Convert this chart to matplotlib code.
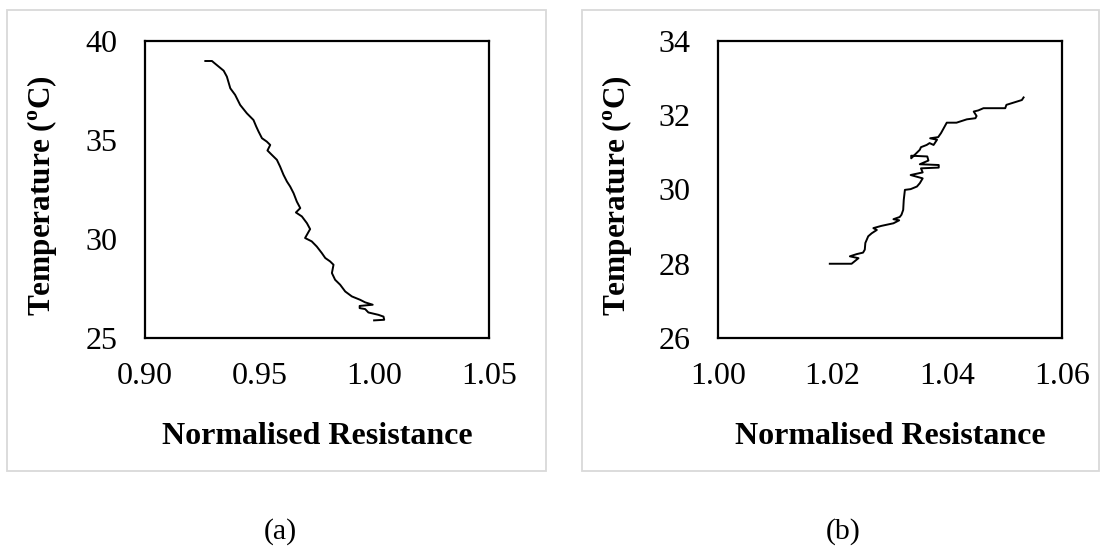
import numpy as np
import matplotlib
matplotlib.use("Agg")
import matplotlib.pyplot as plt
from matplotlib.patches import Rectangle

plt.rcParams["font.family"] = ["Liberation Serif", "DejaVu Serif"]
plt.rcParams["mathtext.fontset"] = "custom"
plt.rcParams["mathtext.rm"] = "Liberation Serif"
plt.rcParams["mathtext.bf"] = "Liberation Serif:bold"

# (a) temperature vs normalised resistance (decreasing)
res_a = [0.9263, 0.9292, 0.9299, 0.9321, 0.9343, 0.9357, 0.9372, 0.9393, 0.9415,
         0.9444, 0.9473, 0.9485, 0.9495, 0.9510, 0.9531, 0.9546, 0.9534, 0.9553,
         0.9575, 0.9589, 0.9604, 0.9619, 0.9633, 0.9648, 0.9662, 0.9677, 0.9658,
         0.9684, 0.9706, 0.9720, 0.9698, 0.9727, 0.9749, 0.9771, 0.9786, 0.9807,
         0.9822, 0.9815, 0.9829, 0.9851, 0.9873, 0.9902, 0.9938, 0.9960, 0.9993,
         0.9936, 0.9936, 0.9960, 0.9974, 1.0018, 1.0040, 1.0043, 0.9999]
temp_a = [38.99, 38.99, 38.92, 38.71, 38.50, 38.20, 37.61, 37.28, 36.77,
          36.35, 36.01, 35.68, 35.43, 35.09, 34.92, 34.75, 34.47, 34.25,
          34.00, 33.66, 33.24, 32.90, 32.65, 32.31, 31.89, 31.56, 31.34,
          31.14, 30.80, 30.50, 30.05, 29.88, 29.62, 29.29, 29.04, 28.87,
          28.70, 28.28, 27.94, 27.69, 27.35, 27.10, 26.93, 26.80, 26.68,
          26.62, 26.51, 26.46, 26.29, 26.17, 26.08, 25.92, 25.89]

# (b) temperature vs normalised resistance (increasing)
res_b = [1.0195, 1.0233, 1.0245, 1.0230, 1.0242, 1.0253, 1.0256, 1.0257, 1.0262,
         1.0268, 1.0277, 1.0271, 1.0285, 1.0306, 1.0316, 1.0306, 1.0317, 1.0320,
         1.0323, 1.0324, 1.0326, 1.0336, 1.0347, 1.0352, 1.0357, 1.0336, 1.0357,
         1.0354, 1.0385, 1.0385, 1.0352, 1.0367, 1.0365, 1.0337, 1.0337, 1.0352,
         1.0354, 1.0364, 1.0369, 1.0376, 1.0382, 1.0370, 1.0384, 1.0389, 1.0399,
         1.0416, 1.0434, 1.0449, 1.0451, 1.0446, 1.0454, 1.0463, 1.0501, 1.0503,
         1.0530, 1.0533]
temp_b = [28.00, 28.00, 28.15, 28.20, 28.26, 28.30, 28.38, 28.56, 28.74,
          28.82, 28.91, 28.96, 29.02, 29.09, 29.17, 29.20, 29.26, 29.32,
          29.45, 29.72, 29.99, 30.01, 30.08, 30.17, 30.30, 30.39, 30.46,
          30.57, 30.59, 30.66, 30.68, 30.78, 30.89, 30.91, 30.84, 31.07,
          31.14, 31.20, 31.25, 31.20, 31.34, 31.38, 31.41, 31.52, 31.80,
          31.80, 31.89, 31.92, 31.98, 32.10, 32.13, 32.19, 32.19, 32.28,
          32.41, 32.48]

xticks_a = [0.90, 0.95, 1.00, 1.05]
yticks_a = [25, 30, 35, 40]
xticks_b = [1.00, 1.02, 1.04, 1.06]
yticks_b = [26, 28, 30, 32, 34]

W, H = 1107, 548
fig = plt.figure(figsize=(W / 100, H / 100), dpi=100)


def px(x0, y0, x1, y1):
    return [x0 / W, 1 - y1 / H, (x1 - x0) / W, (y1 - y0) / H]


# light grey chart-area frames
for x0, x1 in [(7, 546), (582, 1099)]:
    fig.patches.append(Rectangle((x0 / W, 1 - 471 / H), (x1 - x0) / W, 461 / H,
                                 transform=fig.transFigure, fill=False,
                                 edgecolor="#d9d9d9", lw=1.3))

panels = [
    (px(145, 41, 489, 338), res_a, temp_a, xticks_a, yticks_a, 42, 280, "(a)"),
    (px(718, 41, 1062, 338), res_b, temp_b, xticks_b, yticks_b, 617, 843, "(b)"),
]

for rect, xs, ys, xt, yt, ylab_x, cap_x, cap in panels:
    ax = fig.add_axes(rect)
    ax.plot(xs, ys, color="black", lw=1.4)
    ax.set_xlim(xt[0], xt[-1])
    ax.set_ylim(yt[0], yt[-1])
    ax.set_xticks(xt)
    ax.set_yticks(yt)
    ax.set_xticklabels([f"{v:.2f}" for v in xt])
    ax.set_yticklabels([str(v) for v in yt])
    ax.tick_params(length=0, labelsize=23, colors="black")
    ax.tick_params(axis="x", pad=17)
    ax.tick_params(axis="y", pad=20)
    for s in ax.spines.values():
        s.set_linewidth(1.6)
        s.set_color("black")
    xc = (rect[0] + rect[2] / 2)
    fig.text(xc, 1 - 437 / H, "Normalised Resistance", ha="center", va="center",
             fontsize=23, fontweight="bold")
    fig.text(ylab_x / W, 1 - 196 / H, r"Temperature ($^{\mathbf{o}}$C)",
             rotation=90, ha="center", va="center", fontsize=22.5,
             fontweight="bold")
    fig.text(cap_x / W, 1 - 532 / H, cap, ha="center", va="center", fontsize=21.5)

fig.savefig("out.png", dpi=100)
